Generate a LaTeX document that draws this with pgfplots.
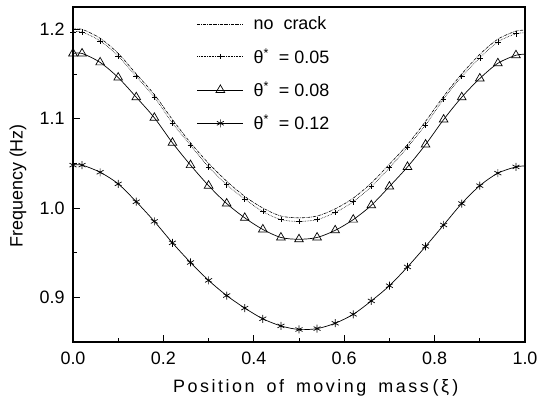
\documentclass[border=0pt]{standalone}
\usepackage{pgfplots}
\pgfplotsset{compat=1.18}
\usepackage{fontspec}
\setmainfont{Liberation Sans}
\newfontfamily\spacedfont[LetterSpace=14]{Liberation Sans}
\begin{document}
\begin{tikzpicture}
\begin{axis}[
  scale only axis,
  width=452bp, height=335bp,
  xmin=0, xmax=1.0, ymin=0.85, ymax=1.225,
  xtick={0,0.2,0.4,0.6,0.8,1.0},
  ytick={0.9,1.0,1.1,1.2},
  minor x tick num=1, minor y tick num=1,
  xtick pos=bottom, ytick pos=left,
  tick align=inside,
  major tick length=7bp, minor tick length=4bp,
  every tick/.style={line width=0.8pt, black},
  axis line style={line width=1.1pt},
  /pgf/number format/assume math mode=true,
  ticklabel style={font=\fontsize{18}{21}\selectfont, /pgf/number format/fixed, /pgf/number format/fixed zerofill, /pgf/number format/precision=1},
  xticklabel style={yshift=-6bp},
  yticklabel style={xshift=-5bp},
  label style={font=\fontsize{18}{21}\selectfont},
  xlabel={\spacedfont Position\hspace{12bp}of\hspace{12bp}moving\hspace{12bp}mass\hspace{4bp}(ξ\,)},
  ylabel={Frequency (Hz)},
  xlabel style={at={(axis description cs:0.537,-0.137)}, anchor=center},
  ylabel style={at={(axis description cs:-0.1217,0.466)}, anchor=center},
  legend cell align=left,
  legend style={at={(axis description cs:0.274,0.977)}, anchor=north west, draw=none, fill=none, inner sep=0pt, row sep=13bp, font=\fontsize{18}{21}\selectfont, /tikz/every odd column/.append style={column sep=8bp}},
  legend image code/.code={\draw[#1] (0cm,0cm) -- (1.62cm,0cm); \draw[#1] plot coordinates {(0.81cm,0cm)};},
]
\addplot[black, line width=0.6pt, densely dash dot, smooth] coordinates {
(0.00,1.200)(0.02,1.200)(0.06,1.190)(0.10,1.173)(0.14,1.150)(0.18,1.127)(0.22,1.099)(0.26,1.073)(0.30,1.050)(0.34,1.030)(0.38,1.013)(0.42,1.000)(0.46,0.991)(0.50,0.989)(0.54,0.991)(0.58,0.999)(0.62,1.011)(0.66,1.028)(0.70,1.049)(0.74,1.071)(0.78,1.097)(0.82,1.125)(0.86,1.150)(0.90,1.172)(0.94,1.189)(0.98,1.198)(1.00,1.199)};
\addlegendentry{no\ \ crack}
\addplot[black, line width=0.6pt, densely dotted, smooth, mark=+, mark size=2.8bp, mark options={solid}, mark indices={1,...,26}] coordinates {
(0.00,1.197)(0.02,1.197)(0.06,1.187)(0.10,1.170)(0.14,1.147)(0.18,1.124)(0.22,1.095)(0.26,1.070)(0.30,1.046)(0.34,1.026)(0.38,1.010)(0.42,0.996)(0.46,0.987)(0.50,0.985)(0.54,0.987)(0.58,0.995)(0.62,1.007)(0.66,1.024)(0.70,1.045)(0.74,1.068)(0.78,1.093)(0.82,1.122)(0.86,1.147)(0.90,1.168)(0.94,1.186)(0.98,1.195)(1.00,1.196)};
\addlegendentry{θ\textsuperscript{*}\ \ =\ 0.05}
\addplot[black, line width=0.7pt, smooth, mark=triangle, mark size=5bp, mark options={solid, fill=white}, mark indices={1,...,26}] coordinates {
(0.00,1.173)(0.02,1.173)(0.06,1.163)(0.10,1.146)(0.14,1.124)(0.18,1.101)(0.22,1.073)(0.26,1.048)(0.30,1.025)(0.34,1.005)(0.38,0.989)(0.42,0.976)(0.46,0.967)(0.50,0.965)(0.54,0.967)(0.58,0.975)(0.62,0.987)(0.66,1.003)(0.70,1.024)(0.74,1.046)(0.78,1.071)(0.82,1.099)(0.86,1.124)(0.90,1.145)(0.94,1.162)(0.98,1.171)(1.00,1.172)};
\addlegendentry{θ\textsuperscript{*}\ \ =\ 0.08}
\addplot[black, line width=0.7pt, smooth, mark=asterisk, mark size=4bp, mark options={solid}, mark indices={1,...,26}] coordinates {
(0.00,1.048)(0.02,1.048)(0.06,1.040)(0.10,1.027)(0.14,1.007)(0.18,0.985)(0.22,0.961)(0.26,0.939)(0.30,0.919)(0.34,0.902)(0.38,0.888)(0.42,0.876)(0.46,0.868)(0.50,0.864)(0.54,0.865)(0.58,0.871)(0.62,0.881)(0.66,0.896)(0.70,0.913)(0.74,0.934)(0.78,0.957)(0.82,0.981)(0.86,1.005)(0.90,1.025)(0.94,1.039)(0.98,1.046)(1.00,1.047)};
\addlegendentry{θ\textsuperscript{*}\ \ =\ 0.12}
\end{axis}
\path ([shift={(-73bp,-62bp)}]current axis.south west) rectangle ([shift={(22bp,7bp)}]current axis.north east);
\end{tikzpicture}
\end{document}
